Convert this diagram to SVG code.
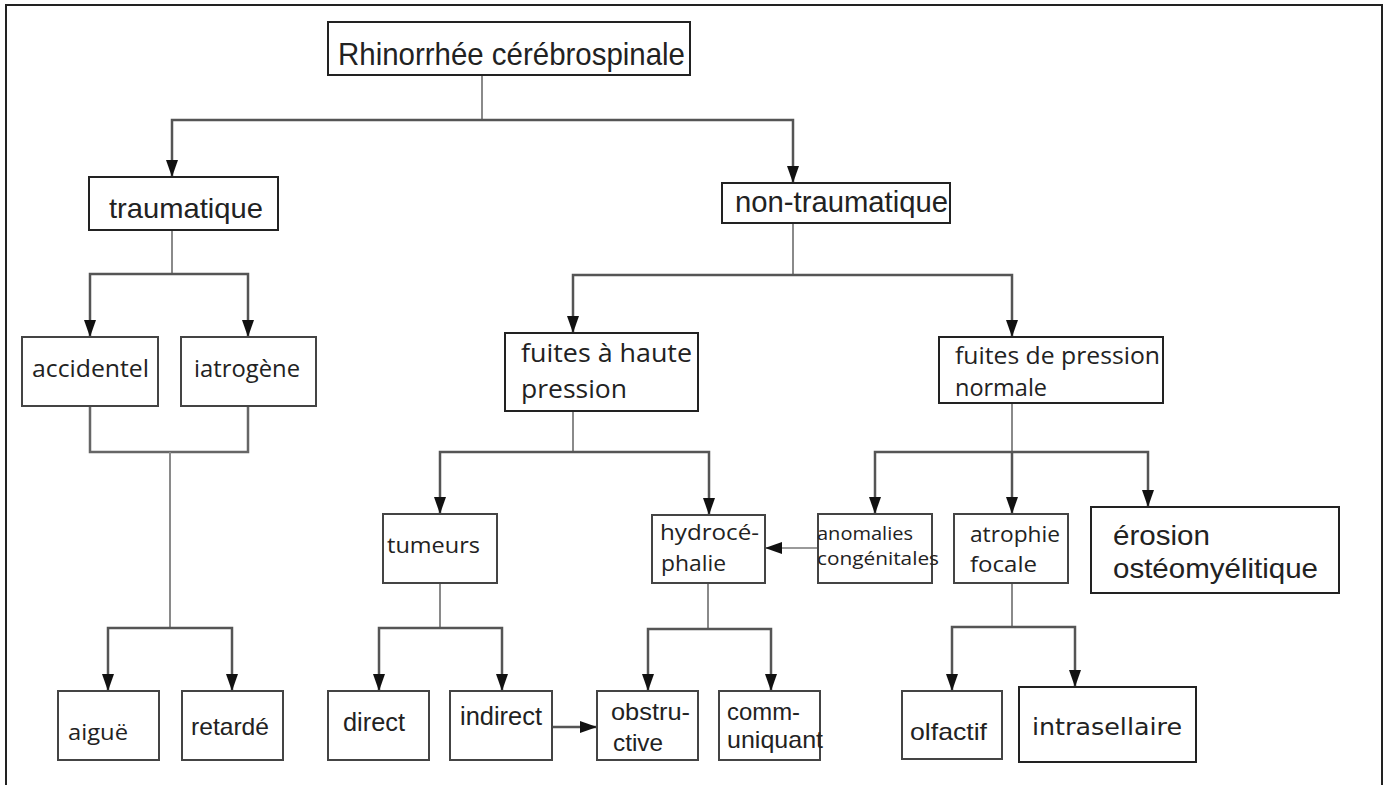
<svg xmlns="http://www.w3.org/2000/svg" width="1389" height="785" viewBox="0 0 1389 785">
  <style>
    .box { fill: #ffffff; stroke: #444444; stroke-width: 2; }
    .box.dark { stroke: #222222; }
    .lbl { fill: #222222; font-family: "Liberation Sans", Arial, sans-serif; }
    .lbl.alt { font-family: "Open Sans", "DejaVu Sans", sans-serif; }
    .lbl.dv { font-family: "DejaVu Sans", sans-serif; }
    .trunk { fill: none; stroke: #8a8a8a; stroke-width: 2; }
    .branch { fill: none; stroke: #555555; stroke-width: 2.5; marker-end: url(#arrow); }
    .join { fill: none; stroke: #666666; stroke-width: 2.5; }
    .side { fill: none; stroke: #9a9a9a; stroke-width: 2; marker-end: url(#arrow); }
  </style>
  <defs>
    <marker id="arrow" markerUnits="userSpaceOnUse" markerWidth="17" markerHeight="12" refX="17" refY="6" orient="auto">
      <path d="M0,0 L17,6 L0,12 Z" fill="#111111"/>
    </marker>
  </defs>

  <rect x="0" y="0" width="1389" height="785" fill="#ffffff"/>
  <!-- outer frame, open at the bottom edge -->
  <rect x="6" y="5" width="1376" height="800" fill="none" stroke="#222222" stroke-width="2"/>

  <g id="connectors">
    <!-- root split -->
    <path class="trunk" d="M482,75 V120"/>
    <path class="branch" d="M482,120 H172 V177"/>
    <path class="branch" d="M482,120 H793 V183"/>
    <!-- traumatique -->
    <path class="trunk" d="M172,230 V274"/>
    <path class="branch" d="M172,274 H90 V337"/>
    <path class="branch" d="M172,274 H248 V337"/>
    <!-- accidentel + iatrogène merge -->
    <path class="join" d="M90,406 V452 H248 V406"/>
    <path class="trunk" d="M170,452 V628"/>
    <path class="branch" d="M170,628 H108 V691"/>
    <path class="branch" d="M170,628 H232 V691"/>
    <!-- non-traumatique -->
    <path class="trunk" d="M793,223 V275"/>
    <path class="branch" d="M793,275 H573 V333"/>
    <path class="branch" d="M793,275 H1012 V337"/>
    <!-- fuites à haute pression -->
    <path class="trunk" d="M573,411 V452"/>
    <path class="branch" d="M573,452 H440 V514"/>
    <path class="branch" d="M573,452 H709 V515"/>
    <!-- fuites de pression normale -->
    <path class="trunk" d="M1012,403 V452"/>
    <path class="branch" d="M1012,452 V514"/>
    <path class="branch" d="M1012,452 H875 V514"/>
    <path class="branch" d="M1012,452 H1148 V507"/>
    <!-- anomalies congénitales to hydrocéphalie -->
    <path class="side" d="M818,548 H765"/>
    <!-- tumeurs -->
    <path class="trunk" d="M440,583 V628"/>
    <path class="branch" d="M440,628 H379 V691"/>
    <path class="branch" d="M440,628 H502 V691"/>
    <!-- indirect to obstructive -->
    <path class="branch" d="M552,727 H597"/>
    <!-- hydrocéphalie -->
    <path class="trunk" d="M708,583 V629"/>
    <path class="branch" d="M708,629 H648 V691"/>
    <path class="branch" d="M708,629 H771 V691"/>
    <!-- atrophie focale -->
    <path class="trunk" d="M1012,583 V627"/>
    <path class="branch" d="M1012,627 H952 V691"/>
    <path class="branch" d="M1012,627 H1075 V687"/>
  </g>

  <g id="root">
    <rect class="box dark" x="328" y="22" width="362" height="53"/>
    <text class="lbl" x="338" y="65" font-size="32" textLength="347" lengthAdjust="spacingAndGlyphs">Rhinorrhée cérébrospinale</text>
  </g>
  <g id="traumatique">
    <rect class="box dark" x="89" y="177" width="189" height="53"/>
    <text class="lbl" x="109" y="218" font-size="28" textLength="154" lengthAdjust="spacingAndGlyphs">traumatique</text>
  </g>
  <g id="non-traumatique">
    <rect class="box dark" x="722" y="183" width="228" height="40"/>
    <text class="lbl" x="735" y="212" font-size="29" textLength="213" lengthAdjust="spacingAndGlyphs">non-traumatique</text>
  </g>
  <g id="accidentel">
    <rect class="box" x="22" y="337" width="136" height="69"/>
    <text class="lbl alt" x="32" y="377" font-size="23" textLength="117" lengthAdjust="spacingAndGlyphs">accidentel</text>
  </g>
  <g id="iatrogene">
    <rect class="box" x="181" y="337" width="135" height="69"/>
    <text class="lbl alt" x="194" y="377" font-size="23" textLength="106" lengthAdjust="spacingAndGlyphs">iatrogène</text>
  </g>
  <g id="haute-pression">
    <rect class="box dark" x="505" y="333" width="193" height="78"/>
    <text class="lbl alt" x="521" y="362" font-size="25" textLength="171" lengthAdjust="spacingAndGlyphs">fuites à haute</text>
    <text class="lbl alt" x="521" y="398" font-size="25" textLength="106" lengthAdjust="spacingAndGlyphs">pression</text>
  </g>
  <g id="pression-normale">
    <rect class="box dark" x="939" y="337" width="224" height="66"/>
    <text class="lbl alt" x="955" y="364" font-size="24" textLength="205" lengthAdjust="spacingAndGlyphs">fuites de pression</text>
    <text class="lbl alt" x="955" y="396" font-size="24" textLength="92" lengthAdjust="spacingAndGlyphs">normale</text>
  </g>
  <g id="tumeurs">
    <rect class="box" x="383" y="514" width="114" height="69"/>
    <text class="lbl alt" x="387" y="553" font-size="22" textLength="93" lengthAdjust="spacingAndGlyphs">tumeurs</text>
  </g>
  <g id="hydrocephalie">
    <rect class="box" x="652" y="515" width="113" height="68"/>
    <text class="lbl alt" x="660" y="540" font-size="22" textLength="99" lengthAdjust="spacingAndGlyphs">hydrocé-</text>
    <text class="lbl alt" x="661" y="571" font-size="22" textLength="65" lengthAdjust="spacingAndGlyphs">phalie</text>
  </g>
  <g id="anomalies">
    <rect class="box" x="818" y="514" width="114" height="69"/>
    <text class="lbl alt" x="817" y="540" font-size="19" textLength="96" lengthAdjust="spacingAndGlyphs">anomalies</text>
    <text class="lbl alt" x="817" y="565" font-size="19" textLength="122" lengthAdjust="spacingAndGlyphs">congénitales</text>
  </g>
  <g id="atrophie">
    <rect class="box" x="954" y="514" width="114" height="69"/>
    <text class="lbl alt" x="970" y="542" font-size="22" textLength="90" lengthAdjust="spacingAndGlyphs">atrophie</text>
    <text class="lbl alt" x="970" y="572" font-size="22" textLength="67" lengthAdjust="spacingAndGlyphs">focale</text>
  </g>
  <g id="erosion">
    <rect class="box dark" x="1091" y="507" width="248" height="86"/>
    <text class="lbl" x="1113" y="545" font-size="28" textLength="97" lengthAdjust="spacingAndGlyphs">érosion</text>
    <text class="lbl" x="1113" y="578" font-size="28" textLength="205" lengthAdjust="spacingAndGlyphs">ostéomyélitique</text>
  </g>
  <g id="aigue">
    <rect class="box" x="58" y="691" width="101" height="69"/>
    <text class="lbl alt" x="68" y="740" font-size="22" textLength="60" lengthAdjust="spacingAndGlyphs">aiguë</text>
  </g>
  <g id="retarde">
    <rect class="box" x="182" y="691" width="101" height="69"/>
    <text class="lbl" x="191" y="735" font-size="24" textLength="78" lengthAdjust="spacingAndGlyphs">retardé</text>
  </g>
  <g id="direct">
    <rect class="box" x="328" y="691" width="101" height="69"/>
    <text class="lbl" x="343" y="731" font-size="25" textLength="62" lengthAdjust="spacingAndGlyphs">direct</text>
  </g>
  <g id="indirect">
    <rect class="box" x="450" y="691" width="102" height="69"/>
    <text class="lbl" x="460" y="725" font-size="25" textLength="82" lengthAdjust="spacingAndGlyphs">indirect</text>
  </g>
  <g id="obstructive">
    <rect class="box" x="597" y="691" width="101" height="69"/>
    <text class="lbl" x="611" y="720" font-size="24" textLength="79" lengthAdjust="spacingAndGlyphs">obstru-</text>
    <text class="lbl" x="613" y="751" font-size="24" textLength="50" lengthAdjust="spacingAndGlyphs">ctive</text>
  </g>
  <g id="communiquant">
    <rect class="box" x="719" y="691" width="101" height="69"/>
    <text class="lbl" x="727" y="720" font-size="24" textLength="73" lengthAdjust="spacingAndGlyphs">comm-</text>
    <text class="lbl" x="727" y="748" font-size="24" textLength="96" lengthAdjust="spacingAndGlyphs">uniquant</text>
  </g>
  <g id="olfactif">
    <rect class="box" x="902" y="691" width="100" height="68"/>
    <text class="lbl" x="910" y="740" font-size="24" textLength="77" lengthAdjust="spacingAndGlyphs">olfactif</text>
  </g>
  <g id="intrasellaire">
    <rect class="box dark" x="1019" y="687" width="177" height="75"/>
    <text class="lbl dv" x="1032" y="735" font-size="23" textLength="150" lengthAdjust="spacingAndGlyphs">intrasellaire</text>
  </g>
</svg>
